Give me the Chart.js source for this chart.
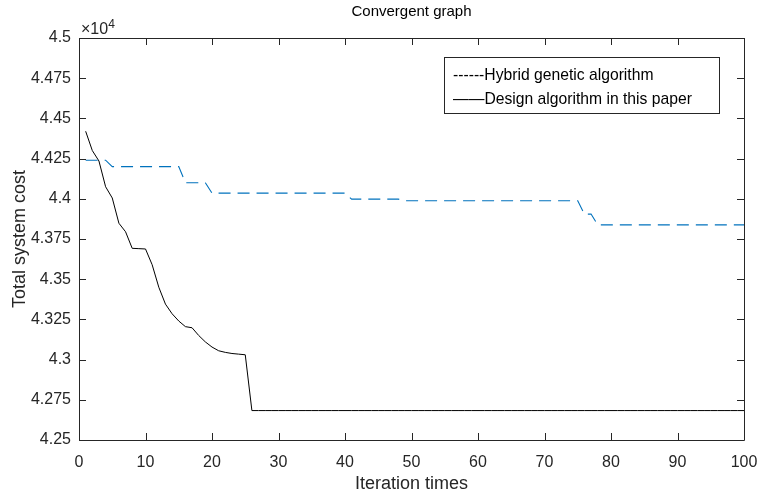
<!DOCTYPE html>
<html>
<head>
<meta charset="utf-8">
<script src="https://cdn.jsdelivr.net/npm/chart.js@4.4.1/dist/chart.umd.min.js"></script>
<style>
  html, body { margin: 0; padding: 0; background: #fff; }
  #wrap { width: 758px; height: 495px; position: relative; }
</style>
</head>
<body>
<div id="wrap"><canvas id="chart" width="758" height="495"></canvas></div>
<script>
// Iteration numbers (x categories)
const iterations = Array.from({ length: 100 }, (_, i) => i + 1);

// Total system cost per iteration, design algorithm (solid black line)
const designCost = [
  44420, 44300, 44235, 44075, 44005, 43848, 43795, 43692, 43690, 43688,
  43590, 43450, 43345, 43285, 43240, 43205, 43198, 43150, 43110, 43078,
  43055, 43045, 43038, 43034, 43030, 42683, 42683, 42683, 42683, 42683,
  42683, 42683, 42683, 42683, 42683, 42683, 42683, 42683, 42683, 42683,
  42683, 42683, 42683, 42683, 42683, 42683, 42683, 42683, 42683, 42683,
  42683, 42683, 42683, 42683, 42683, 42683, 42683, 42683, 42683, 42683,
  42683, 42683, 42683, 42683, 42683, 42683, 42683, 42683, 42683, 42683,
  42683, 42683, 42683, 42683, 42683, 42683, 42683, 42683, 42683, 42683,
  42683, 42683, 42683, 42683, 42683, 42683, 42683, 42683, 42683, 42683,
  42683, 42683, 42683, 42683, 42683, 42683, 42683, 42683, 42683, 42683
];

// Total system cost per iteration, hybrid genetic algorithm (dashed blue line)
const hybridCost = [
  44240, 44240, 44240, 44240, 44200, 44200, 44200, 44200, 44200, 44200,
  44200, 44200, 44200, 44200, 44200, 44100, 44100, 44100, 44100, 44035,
  44035, 44035, 44035, 44035, 44035, 44035, 44035, 44035, 44035, 44035,
  44035, 44035, 44035, 44035, 44035, 44035, 44035, 44035, 44035, 44035,
  43998, 43998, 43998, 43998, 43998, 43998, 43998, 43998, 43988, 43988,
  43988, 43988, 43988, 43988, 43988, 43988, 43988, 43988, 43988, 43988,
  43988, 43988, 43988, 43988, 43988, 43988, 43988, 43988, 43988, 43988,
  43988, 43988, 43988, 43988, 43988, 43905, 43905, 43838, 43838, 43838,
  43838, 43838, 43838, 43838, 43838, 43838, 43838, 43838, 43838, 43838,
  43838, 43838, 43838, 43838, 43838, 43838, 43838, 43838, 43838, 43838
];

// Axis ranges and tick spacing
const xRange = [0, 100];
const xStep = 10;
const yRange = [42500, 45000];
const yStep = 250;
const yExponent = 4;

// Texts
const chartTitle = 'Convergent graph';
const xTitle = 'Iteration times';
const yTitle = 'Total system cost';
const legendLines = ['------Hybrid genetic algorithm', '\u2014\u2014Design algorithm in this paper'];

const AXIS = '#262626';
const FONT = '"Liberation Sans", Arial, Helvetica, sans-serif';

function toPoints(values) {
  return values.map((v, i) => ({ x: iterations[i], y: v }));
}

// Boxed axes with inward ticks on all four sides, exponent label, title and legend
const framePlugin = {
  id: 'frame',
  afterDraw(chart) {
    const { ctx, chartArea: a, scales } = chart;
    const xs = scales.x, ys = scales.y;
    const tl = 7;
    ctx.save();
    ctx.strokeStyle = AXIS;
    ctx.lineWidth = 1;
    ctx.beginPath();
    ctx.rect(Math.round(a.left) + 0.5, Math.round(a.top) + 0.5,
             Math.round(a.right - a.left), Math.round(a.bottom - a.top));
    ctx.stroke();
    ctx.beginPath();
    xs.ticks.forEach((t, i) => {
      const px = Math.round(xs.getPixelForTick(i)) + 0.5;
      ctx.moveTo(px, a.bottom); ctx.lineTo(px, a.bottom - tl);
      ctx.moveTo(px, a.top); ctx.lineTo(px, a.top + tl);
    });
    ys.ticks.forEach((t, i) => {
      const py = Math.round(ys.getPixelForTick(i)) + 0.5;
      ctx.moveTo(a.left, py); ctx.lineTo(a.left + tl, py);
      ctx.moveTo(a.right, py); ctx.lineTo(a.right - tl, py);
    });
    ctx.stroke();

    // exponent marker above the y axis
    ctx.fillStyle = AXIS;
    ctx.textBaseline = 'alphabetic';
    ctx.textAlign = 'left';
    ctx.font = '16px ' + FONT;
    ctx.fillText('\u00d710', a.left + 2, a.top - 4);
    const w = ctx.measureText('\u00d710').width;
    ctx.font = '12px ' + FONT;
    ctx.fillText(String(yExponent), a.left + 2 + w, a.top - 10);

    // title
    ctx.font = '15px ' + FONT;
    ctx.textAlign = 'center';
    ctx.textBaseline = 'middle';
    ctx.fillStyle = '#000';
    ctx.fillText(chartTitle, (a.left + a.right) / 2, 12);

    // legend box
    const bx = 444.5, by = 57.5, bw = 275, bh = 56;
    ctx.fillStyle = '#fff';
    ctx.fillRect(bx, by, bw, bh);
    ctx.strokeStyle = AXIS;
    ctx.strokeRect(bx, by, bw, bh);
    ctx.fillStyle = '#000';
    ctx.font = '15.7px ' + FONT;
    ctx.textAlign = 'left';
    ctx.textBaseline = 'middle';
    ctx.fillText(legendLines[0], bx + 8.5, by + 18);
    ctx.fillText(legendLines[1], bx + 8.5, by + 42);
    ctx.restore();
  }
};

new Chart(document.getElementById('chart'), {
  type: 'line',
  data: {
    datasets: [
      {
        label: 'Hybrid genetic algorithm',
        data: toPoints(hybridCost),
        borderColor: '#0072BD',
        borderWidth: 1.1,
        borderDash: [12, 7],
        pointRadius: 0,
        tension: 0,
        fill: false
      },
      {
        label: 'Design algorithm in this paper',
        data: toPoints(designCost),
        borderColor: '#000000',
        borderWidth: 1,
        pointRadius: 0,
        tension: 0,
        fill: false
      }
    ]
  },
  options: {
    responsive: false,
    animation: false,
    events: [],
    layout: { padding: { top: 38, right: 14, left: 0, bottom: 0 } },
    plugins: {
      legend: { display: false },
      title: { display: false },
      tooltip: { enabled: false }
    },
    scales: {
      x: {
        type: 'linear',
        min: xRange[0], max: xRange[1],
        grid: { display: false, drawTicks: false },
        border: { display: false },
        ticks: {
          stepSize: xStep, color: AXIS, padding: 13, maxRotation: 0,
          font: { family: FONT, size: 16 }
        },
        title: {
          display: true, text: xTitle, color: AXIS,
          font: { family: FONT, size: 18 }, padding: { top: 0, bottom: 0 }
        },
        afterFit(scale) {
          scale.height = 55;
          scale.paddingLeft = 0;
          scale.paddingRight = 0;
        }
      },
      y: {
        type: 'linear',
        min: yRange[0], max: yRange[1],
        grid: { display: false, drawTicks: false },
        border: { display: false },
        ticks: {
          stepSize: yStep, color: AXIS, padding: 8,
          font: { family: FONT, size: 16 },
          callback: (v) => String(parseFloat((v / Math.pow(10, yExponent)).toFixed(4)))
        },
        title: {
          display: true, text: yTitle, color: AXIS,
          font: { family: FONT, size: 18 }, padding: { top: 9, bottom: 0 }
        },
        afterFit(scale) {
          scale.width = 79;
          scale.paddingTop = 0;
          scale.paddingBottom = 0;
        }
      }
    }
  },
  plugins: [framePlugin]
});
</script>
</body>
</html>
